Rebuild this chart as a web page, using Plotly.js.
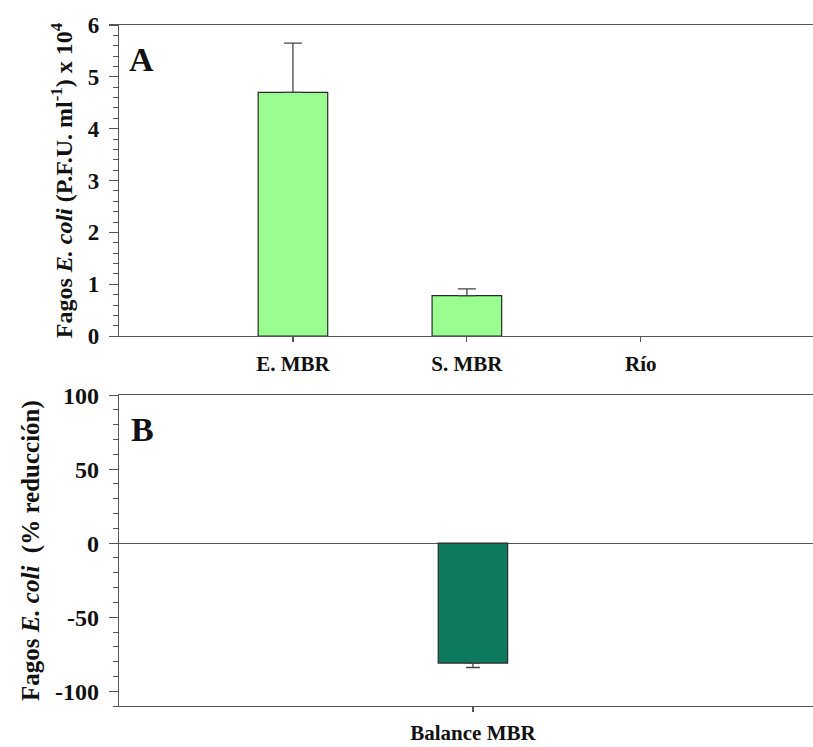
<!DOCTYPE html>
<html>
<head>
<meta charset="utf-8">
<script src="https://cdn.plot.ly/plotly-3.0.1.min.js"></script>
<style>html,body{margin:0;padding:0;background:#fff;}#chart{width:813px;height:747px;}</style>
</head>
<body>
<div id="chart"></div>
<script>
// Panel A data
const categoriesA = ["E. MBR", "S. MBR", "Río"];
const valuesA = [4.70, 0.78, null];
const errorsA = [0.95, 0.13, null];
// Panel B data
const categoriesB = ["Balance MBR"];
const valuesB = [-81];
const errorsB = [3];
const yTicksA = [0, 1, 2, 3, 4, 5, 6];
const yTicksB = [-100, -50, 0, 50, 100];

const FONT = "Liberation Serif, Times New Roman, serif";
const AX = "#555";

const traceA = {
  type: "bar", x: categoriesA, y: valuesA, xaxis: "x", yaxis: "y",
  width: 0.4,
  marker: {color: "#99fd8f", line: {color: "#2a2a2a", width: 1.2}},
  error_y: {type: "data", array: errorsA, arrayminus: [0,0,0], symmetric: false, visible: true, color: "#444", thickness: 1.3, width: 9},
  hoverinfo: "skip"
};
const traceB = {
  type: "bar", x: categoriesB, y: valuesB, xaxis: "x2", yaxis: "y2",
  width: 0.1,
  marker: {color: "#0e7a5d", line: {color: "#2a2a2a", width: 1.2}},
  error_y: {type: "data", array: [0], arrayminus: errorsB, symmetric: false, visible: true, color: "#444", thickness: 1.3, width: 7},
  hoverinfo: "skip"
};

const bold = (size) => ({family: FONT, size: size, color: "#111", weight: 700});

const layout = {
  width: 813, height: 747,
  margin: {l: 119, r: 0, t: 25, b: 41},
  paper_bgcolor: "#fff", plot_bgcolor: "#fff",
  showlegend: false,
  font: {family: FONT, color: "#111"},
  xaxis: {
    domain: [0, 1], anchor: "y", type: "category", range: [-1, 2.99],
    categoryorder: "array", categoryarray: categoriesA,
    showline: true, linecolor: AX, linewidth: 1.2, mirror: true,
    ticks: "outside", ticklen: 5, tickcolor: AX, tickwidth: 1.2,
    tickfont: bold(21), ticklabelstandoff: 3,
    showgrid: false, zeroline: false, fixedrange: true
  },
  yaxis: {
    domain: [0.5431, 1], anchor: "x", range: [0, 6],
    tickvals: yTicksA, ticktext: yTicksA.map(String),
    showline: true, linecolor: AX, linewidth: 1.2,
    ticks: "outside", ticklen: 9, tickcolor: AX, tickwidth: 1.2,
    minor: {ticks: "outside", dtick: 0.2, ticklen: 5, tickcolor: AX, tickwidth: 1},
    tickfont: bold(23), ticklabelstandoff: 5,
    showgrid: false, zeroline: false,
    title: {text: "Fagos <i>E. coli</i> (P.F.U. ml<sup>-1</sup>) x 10<sup>4</sup>", font: bold(24), standoff: 8}
  },
  xaxis2: {
    domain: [0, 1], anchor: "y2", type: "category", range: [-0.51, 0.49],
    showline: true, linecolor: AX, linewidth: 1.2, mirror: true,
    ticks: "outside", ticklen: 5, tickcolor: AX, tickwidth: 1.2,
    tickfont: bold(21), ticklabelstandoff: 3,
    showgrid: false, zeroline: false
  },
  yaxis2: {
    domain: [0, 0.4564], anchor: "x2", range: [-110, 100],
    tickvals: yTicksB, ticktext: yTicksB.map(String),
    showline: true, linecolor: AX, linewidth: 1.2,
    ticks: "outside", ticklen: 9, tickcolor: AX, tickwidth: 1.2,
    minor: {ticks: "outside", dtick: 10, ticklen: 5, tickcolor: AX, tickwidth: 1},
    tickfont: bold(24), ticklabelstandoff: 5,
    showgrid: false, zeroline: true, zerolinecolor: AX, zerolinewidth: 1.2,
    title: {text: "Fagos <i>E. coli</i>  (% reducción)", font: bold(25), standoff: 8}
  },
  annotations: [
    {text: "A", xref: "x domain", yref: "y domain", x: 0.011, y: 0.955, xanchor: "left", yanchor: "top", showarrow: false, font: bold(34)},
    {text: "B", xref: "x2 domain", yref: "y2 domain", x: 0.014, y: 0.955, xanchor: "left", yanchor: "top", showarrow: false, font: bold(34)}
  ]
};

Plotly.newPlot("chart", [traceA, traceB], layout, {displayModeBar: false, staticPlot: true});
</script>
</body>
</html>
